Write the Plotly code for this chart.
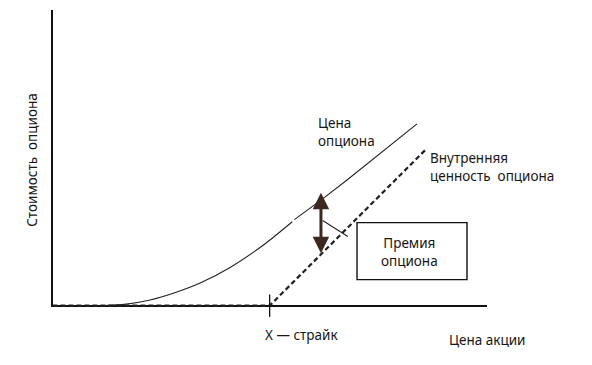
import plotly.graph_objects as go

# Data (stock price S, option value V) in chart units
strike = 50
intrinsic_S = [0, 50, 86]
intrinsic_V = [0, 0, 36]
price_S_lower = [11, 17, 22.5, 28, 34, 40.9, 48.5, 55.2]
price_V_lower = [0, 0.35, 1.3, 2.9, 5.2, 8.8, 13.9, 19.3]
price_S_upper = [55.7, 62.1, 67.8, 83.9]
price_V_upper = [19.8, 24.5, 28.9, 41.8]
premium_S = 61.8
premium_top = 25.96
premium_bottom = 11.7
box_x = [70.1, 95.4]
box_y = [6.0, 19.1]
leader_S = [62.2, 68.0]
leader_V = [19.6, 15.9]

FONT = "Noto Sans"
TXT = "#161616"

fig = go.Figure()

fig.add_trace(go.Scatter(x=intrinsic_S, y=intrinsic_V, mode="lines",
                         line=dict(color="#202020", width=2.2, dash="5px,3px"),
                         hoverinfo="skip"))
fig.add_trace(go.Scatter(x=price_S_lower, y=price_V_lower, mode="lines",
                         line=dict(color="#222222", width=1.1, shape="spline", smoothing=0.8),
                         hoverinfo="skip"))
fig.add_trace(go.Scatter(x=price_S_upper, y=price_V_upper, mode="lines",
                         line=dict(color="#222222", width=1.1),
                         hoverinfo="skip"))
fig.add_trace(go.Scatter(x=[strike], y=[0], mode="markers", cliponaxis=False,
                         marker=dict(symbol="line-ns", size=16,
                                     line=dict(color="#111111", width=1.3)),
                         hoverinfo="skip"))
fig.add_trace(go.Scatter(x=leader_S, y=leader_V, mode="lines",
                         line=dict(color="#222222", width=1.1),
                         hoverinfo="skip"))

fig.add_shape(type="rect", xref="x", yref="y",
              x0=box_x[0], x1=box_x[1], y0=box_y[0], y1=box_y[1],
              line=dict(color="#111111", width=1.4), fillcolor="white")

fig.add_annotation(x=premium_S, y=premium_top, ax=premium_S, ay=premium_bottom,
                   xref="x", yref="y", axref="x", ayref="y", text="",
                   showarrow=True, arrowhead=2, arrowside="end+start",
                   arrowsize=1.1, arrowwidth=3, arrowcolor="#3d2820")

def label(x, y, text, xanchor="center", align="center", angle=0,
          xref="x", yref="y"):
    fig.add_annotation(x=x, y=y, xref=xref, yref=yref, text=text, showarrow=False,
                       xanchor=xanchor, yanchor="middle", align=align,
                       textangle=angle,
                       font=dict(family=FONT, size=13.5, color=TXT))

label(60.7, 39.9, "Цена<br>опциона", xanchor="left", align="left")
label(86.4, 32.0, "Внутренняя<br>ценность  опциона", xanchor="left", align="left")
label(82.2, 12.3, "Премия<br>опциона")
label(57.3, -0.094, "X — страйк", yref="paper")
label(100.0, -0.111, "Цена акции", yref="paper")
label(-0.044, 0.495, "Стоимость  опциона", angle=-90, xref="paper", yref="paper")

fig.update_xaxes(range=[-0.3, 100], showgrid=False, showticklabels=False,
                 ticks="", zeroline=True, zerolinecolor="#111111",
                 zerolinewidth=1.5, showline=False)
fig.update_yaxes(range=[-0.3, 68], showgrid=False, showticklabels=False,
                 ticks="", zeroline=True, zerolinecolor="#111111",
                 zerolinewidth=1.5, showline=False)

fig.update_layout(width=592, height=365, showlegend=False,
                  margin=dict(l=51, r=105, t=10, b=58),
                  plot_bgcolor="white", paper_bgcolor="white")

fig.write_html("out.html")
